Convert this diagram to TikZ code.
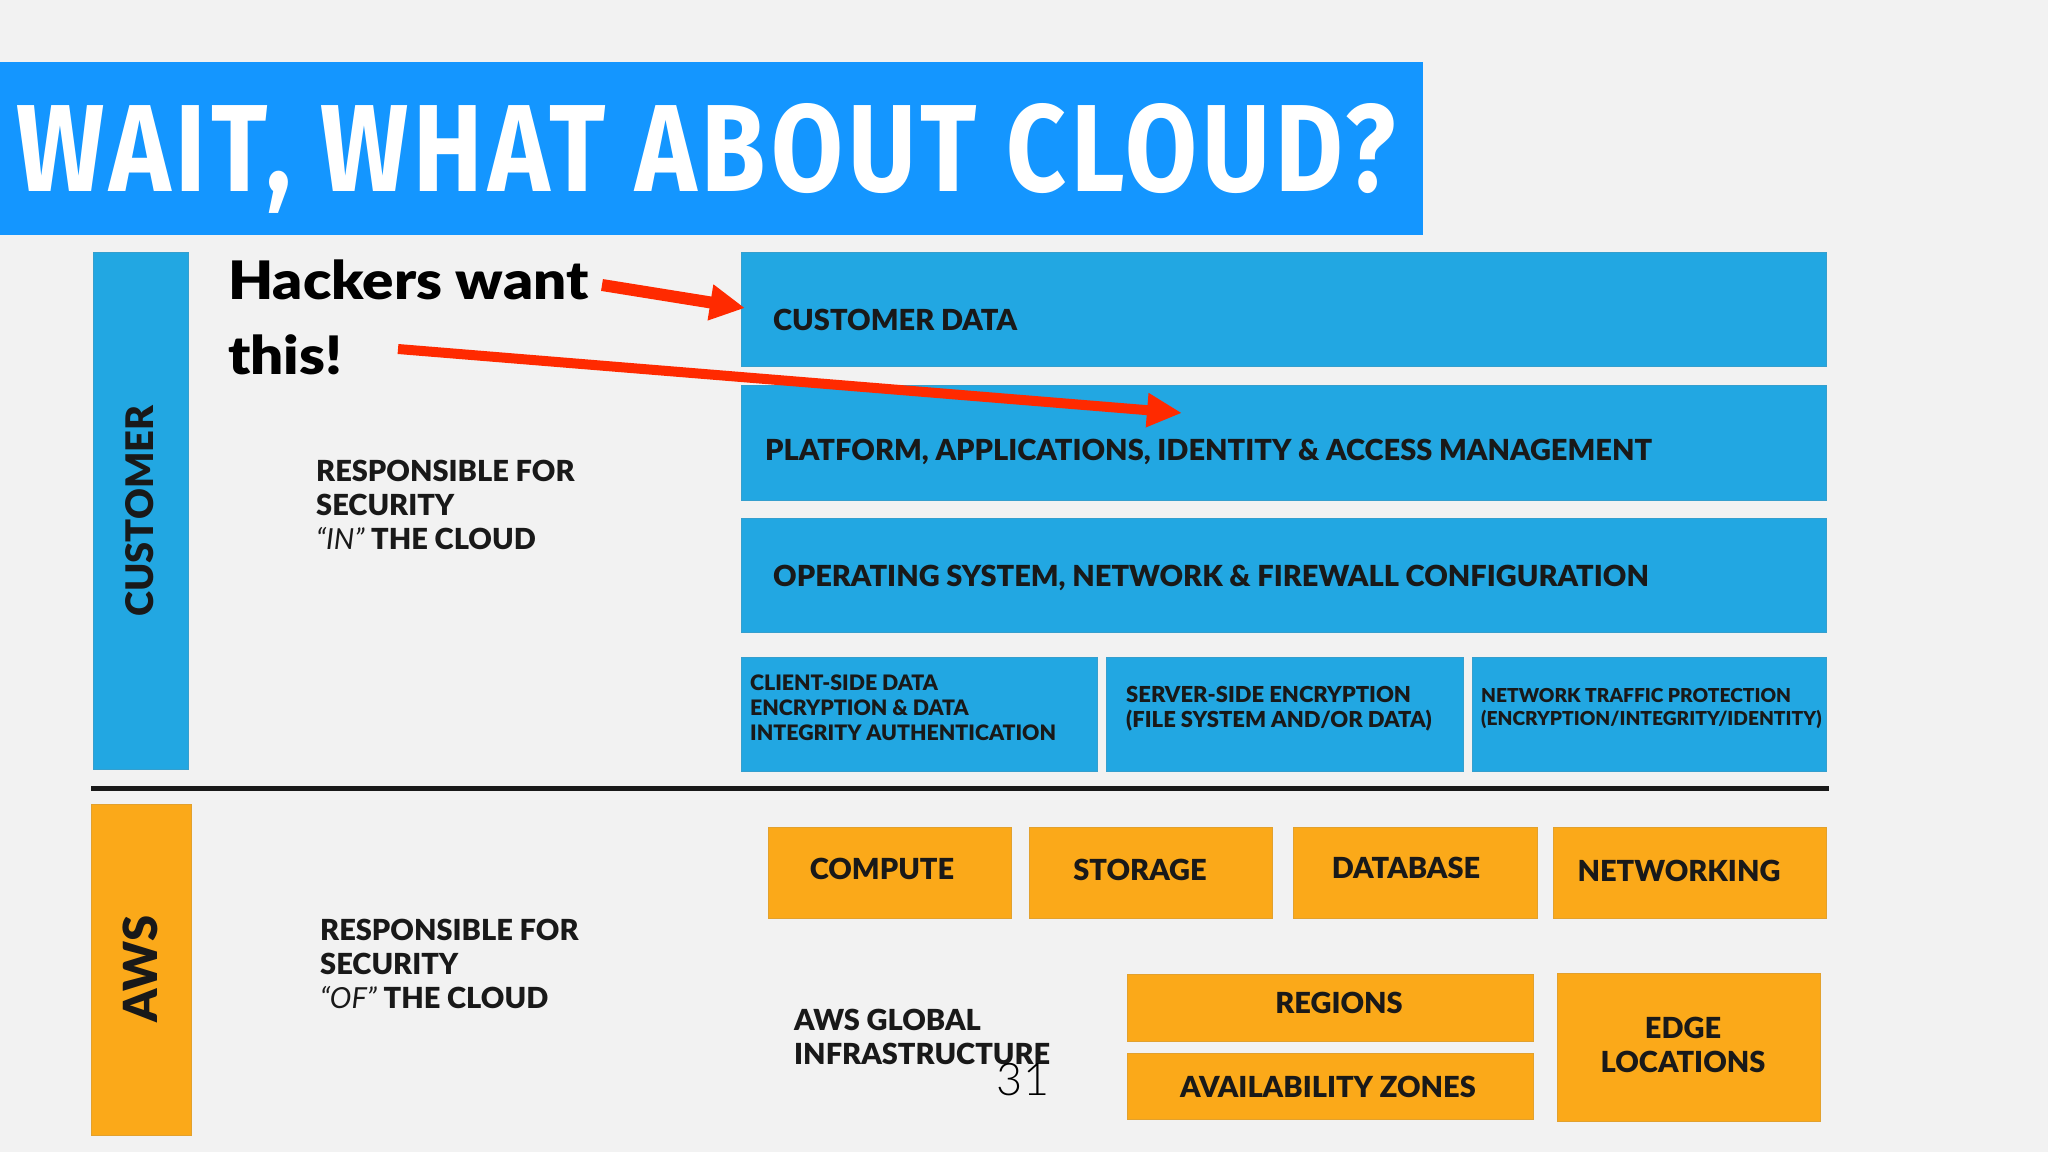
\documentclass[tikz,border=0pt]{standalone}
\usepackage{fontspec}
\usepackage{xcolor}
\setmainfont{Lato}[BoldFont = {Lato Black}]
\newfontfamily\titlefont[FakeStretch=0.84,LetterSpace=4]{Fira Sans}
\newfontfamily\numfont{Lato Light}
\newfontfamily\hackersfont[FakeStretch=1.1,BoldFont={Lato Black}]{Lato}
\usetikzlibrary{arrows.meta}
\definecolor{slidecolor}{HTML}{F2F2F2}
\definecolor{bannercolor}{HTML}{1496FF}
\definecolor{bluecolor}{HTML}{22A7E2}
\definecolor{orangecolor}{HTML}{FBA919}
\definecolor{arrowcolor}{HTML}{FF2A00}
\tikzset{
        bluebox/.style = {fill = bluecolor, draw = bluecolor!80!gray, line width = 1pt, rectangle, inner sep = 0pt, anchor = north west},
        orangebox/.style = {fill = orangecolor, draw = orangecolor!80!gray, line width = 1pt, rectangle, inner sep = 0pt, anchor = north west},
        biglabel/.style = {font = \fontsize{29pt}{34pt}\selectfont\bfseries, inner sep = 0pt, text = black!90},
        midlabel/.style = {font = \fontsize{29pt}{34pt}\selectfont\bfseries, inner sep = 0pt, align = left, anchor = west, text = black!90},
        smalllabel/.style = {font = \fontsize{22pt}{25pt}\selectfont\bfseries, inner sep = 0pt, align = left, anchor = west, text = black!90},
        redarrow/.style = {draw = arrowcolor, line width = 10pt},
}
\begin{document}
\begin{tikzpicture}[x = 1pt, y = -1pt]

        \fill [slidecolor] (0, 0) rectangle (2048, 1152);
        \useasboundingbox (0, 0) rectangle (2048, 1152);

        % Banner
        \node [fill = bannercolor, rectangle, inner sep = 0pt, anchor = north west, minimum width = 1423pt, minimum height = 173pt] (banner) at (0, 62) {};
        \node [font = \titlefont\fontsize{124pt}{124pt}\selectfont\bfseries, text = white, inner sep = 0pt, anchor = west] (title) at (16, 158) {WAIT, WHAT ABOUT CLOUD?};

        % Customer
        \node [bluebox, minimum width = 95pt, minimum height = 517pt] (customer) at (93, 252) {};
        \node [biglabel, rotate = 90, font = \fontsize{38pt}{40pt}\selectfont\bfseries] (customerText) at (140, 511) {CUSTOMER};

        \node [bluebox, minimum width = 1085pt, minimum height = 114pt] (data) at (741, 252) {};
        \node [midlabel] (dataText) at (773, 320) {CUSTOMER DATA};

        \node [bluebox, minimum width = 1085pt, minimum height = 115pt] (platform) at (741, 385) {};
        \node [midlabel] (platformText) at (765, 452) {PLATFORM, APPLICATIONS, IDENTITY \& ACCESS MANAGEMENT};

        \node [bluebox, minimum width = 1085pt, minimum height = 114pt] (system) at (741, 518) {};
        \node [midlabel] (systemText) at (773, 578) {OPERATING SYSTEM, NETWORK \& FIREWALL CONFIGURATION};

        \node [bluebox, minimum width = 356pt, minimum height = 114pt] (client) at (741, 657) {};
        \node [smalllabel, font = \fontsize{21.3pt}{25pt}\selectfont\bfseries] (clientText) at (750, 708) {CLIENT-SIDE DATA\\ENCRYPTION \& DATA\\INTEGRITY AUTHENTICATION};

        \node [bluebox, minimum width = 357pt, minimum height = 114pt] (server) at (1106, 657) {};
        \node [smalllabel] (serverText) at (1126, 709) {SERVER-SIDE ENCRYPTION\\(FILE SYSTEM AND/OR DATA)};

        \node [bluebox, minimum width = 354pt, minimum height = 114pt] (traffic) at (1472, 657) {};
        \node [smalllabel, font = \fontsize{19.2pt}{23pt}\selectfont\bfseries] (trafficText) at (1481, 709) {NETWORK TRAFFIC PROTECTION\\(ENCRYPTION/INTEGRITY/IDENTITY)};

        \node [midlabel] (inText) at (316, 505) {RESPONSIBLE FOR\\SECURITY\\\textit{\textmd{“IN”}} THE CLOUD};

        % Divider
        \coordinate (dividerLeft) at (91, 788);
        \coordinate (dividerRight) at (1829, 788);
        \draw [line width = 5pt, black!90] (dividerLeft) -- (dividerRight);

        % AWS
        \node [orangebox, minimum width = 100pt, minimum height = 331pt] (aws) at (91, 804) {};
        \node [biglabel, rotate = 90, font = \fontsize{47pt}{42pt}\selectfont\bfseries] (awsText) at (140, 969) {AWS};

        \node [orangebox, minimum width = 243pt, minimum height = 91pt] (compute) at (768, 827) {};
        \node [biglabel] (computeText) at (882, 869) {COMPUTE};

        \node [orangebox, minimum width = 243pt, minimum height = 91pt] (storage) at (1029, 827) {};
        \node [biglabel] (storageText) at (1140, 870) {STORAGE};

        \node [orangebox, minimum width = 244pt, minimum height = 91pt] (database) at (1293, 827) {};
        \node [biglabel] (databaseText) at (1406, 868) {DATABASE};

        \node [orangebox, minimum width = 273pt, minimum height = 91pt] (networking) at (1553, 827) {};
        \node [biglabel] (networkingText) at (1679, 871) {NETWORKING};

        \node [orangebox, minimum width = 406pt, minimum height = 67pt] (regions) at (1127, 974) {};
        \node [biglabel] (regionsText) at (1339, 1003) {REGIONS};

        \node [orangebox, minimum width = 406pt, minimum height = 66pt] (zones) at (1127, 1053) {};
        \node [biglabel] (zonesText) at (1328, 1087) {AVAILABILITY ZONES};

        \node [orangebox, minimum width = 263pt, minimum height = 148pt] (edge) at (1557, 973) {};
        \node [biglabel, align = center] (edgeText) at (1683, 1045) {EDGE\\LOCATIONS};

        \node [midlabel] (ofText) at (320, 964) {RESPONSIBLE FOR\\SECURITY\\\textit{\textmd{“OF”}} THE CLOUD};
        \node [midlabel] (globalText) at (794, 1037) {AWS GLOBAL\\INFRASTRUCTURE};
        \node [font = \numfont\fontsize{45pt}{45pt}\selectfont, inner sep = 0pt] (page) at (1023, 1080) {31};

        % Hackers
        \node [font = \hackersfont\fontsize{53pt}{75pt}\selectfont\bfseries, inner sep = 0pt, align = left, anchor = west] (hackers) at (228, 317) {Hackers want\\this!};

        \coordinate (firstStart) at (602, 285);
        \coordinate (firstTip) at (745, 308);
        \coordinate (secondStart) at (398, 349);
        \coordinate (secondTip) at (1182, 413);
        \draw [redarrow, line width = 12pt, -{Triangle[length = 35pt, width = 34pt]}] (firstStart) -- (firstTip);
        \draw [redarrow, -{Triangle[length = 35pt, width = 32pt]}] (secondStart) -- (secondTip);

    \end{tikzpicture}
\end{document}
